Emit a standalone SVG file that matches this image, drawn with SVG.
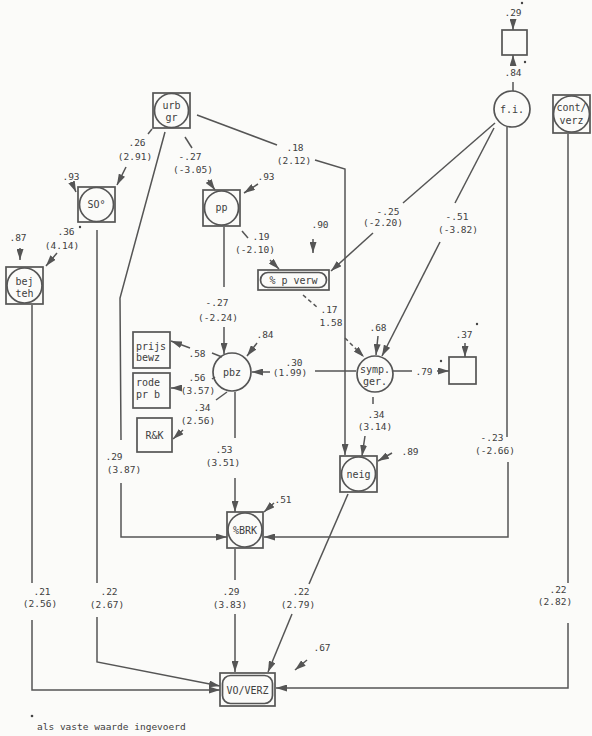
<svg xmlns="http://www.w3.org/2000/svg" width="592" height="736" viewBox="0 0 592 736">
<style>
.bg{fill:#fbfbf9}
.n{fill:none;stroke:#555;stroke-width:1.7}
.c{fill:none;stroke:#555;stroke-width:1.5}
.a{marker-end:url(#ah)}
.d{stroke-dasharray:4,3}
.t{font-family:"DejaVu Sans Mono","Liberation Mono",monospace;font-size:10px;fill:#404040;text-anchor:middle}
.l{font-family:"DejaVu Sans Mono","Liberation Mono",monospace;font-size:9.5px;fill:#404040;text-anchor:middle}
.st{text-anchor:start}
.s{fill:#444}
</style>
<defs>
<marker id="ah" markerWidth="11" markerHeight="7" refX="11" refY="3.5" orient="auto" markerUnits="userSpaceOnUse"><path d="M0,0 L11,3.5 L0,7 z" fill="#555"/></marker>
</defs>
<rect class="bg" x="0" y="0" width="592" height="736"/>

<g id="connectors">
<!-- urb gr -> SO -->
<line class="c" x1="152" y1="129" x2="148" y2="134"/>
<line class="c a" x1="126" y1="167" x2="117" y2="185"/>
<text class="l" x="137" y="146">.26</text><text class="l" x="135" y="160">(2.91)</text>
<!-- urb gr -> pp -->
<line class="c" x1="185" y1="137" x2="192" y2="148"/>
<line class="c a" x1="208" y1="180" x2="215" y2="190"/>
<text class="l" x="190" y="160">-.27</text><text class="l" x="193" y="173">(-3.05)</text>
<!-- urb gr -> neig -->
<line class="c" x1="197" y1="115" x2="277" y2="145"/>
<polyline class="c a" points="315,160 345,169 345,455"/>
<text class="l" x="295" y="151">.18</text><text class="l" x="294" y="164">(2.12)</text>
<!-- .93 -> pp -->
<line class="c a" x1="258" y1="184" x2="244" y2="193"/>
<text class="l" x="266" y="180">.93</text>
<!-- .93 -> SO -->
<line class="c a" x1="72" y1="183" x2="76" y2="192"/>
<text class="l" x="71" y="180">.93</text>
<!-- SO -> bej teh -->
<line class="c a" x1="57" y1="253" x2="46" y2="266"/>
<text class="l" x="66" y="235">.36</text><circle class="s" cx="80" cy="227" r="1.2"/>
<text class="l" x="62" y="249">(4.14)</text>
<!-- .87 -> bej teh -->
<line class="c a" x1="20" y1="248" x2="20" y2="260"/>
<text class="l" x="18" y="241">.87</text>
<!-- bej teh -> VO/VERZ -->
<line class="c" x1="32" y1="305" x2="32" y2="583"/>
<polyline class="c a" points="32,620 32,690 220,690"/>
<text class="l" x="42" y="595">.21</text><text class="l" x="40" y="607">(2.56)</text>
<!-- SO -> VO/VERZ -->
<line class="c" x1="97" y1="230" x2="97" y2="583"/>
<polyline class="c a" points="97,617 97,662 220,686"/>
<text class="l" x="109" y="595">.22</text><text class="l" x="107" y="608">(2.67)</text>
<!-- urb gr -> %BRK -->
<polyline class="c" points="165,132 120,298 121,440"/>
<polyline class="c a" points="121,483 121,537 227,537"/>
<text class="l" x="114" y="460">.29</text><text class="l" x="124" y="473">(3.87)</text>
<!-- pp -> % p verw -->
<line class="c" x1="242" y1="231" x2="248" y2="238"/>
<line class="c a" x1="270" y1="260" x2="279" y2="269"/>
<text class="l" x="261" y="240">.19</text><text class="l" x="255" y="253">(-2.10)</text>
<!-- .90 -> % p verw -->
<line class="c a" x1="313" y1="239" x2="313" y2="253"/>
<text class="l" x="320" y="228">.90</text>
<!-- pp -> pbz -->
<line class="c" x1="224" y1="227" x2="224" y2="287"/>
<line class="c a" x1="224" y1="327" x2="224" y2="354"/>
<text class="l" x="217" y="306">-.27</text><text class="l" x="218" y="321">(-2.24)</text>
<!-- .84 -> pbz -->
<line class="c a" x1="257" y1="343" x2="247" y2="356"/>
<text class="l" x="265" y="338">.84</text>
<!-- pbz -> prijs bewz -->
<line class="c" x1="222" y1="357" x2="212" y2="353"/>
<line class="c a" x1="190" y1="348" x2="171" y2="341"/>
<text class="l" x="197" y="357">.58</text>
<!-- pbz -> rode pr b -->
<line class="c" x1="215" y1="377" x2="212" y2="379"/>
<line class="c a" x1="182" y1="388" x2="171" y2="388"/>
<text class="l" x="197" y="381">.56</text><text class="l" x="198" y="394">(3.57)</text>
<!-- pbz -> R&K -->
<line class="c" x1="227" y1="392" x2="216" y2="400"/>
<line class="c a" x1="183" y1="430" x2="173" y2="439"/>
<text class="l" x="202" y="411">.34</text><text class="l" x="198" y="424">(2.56)</text>
<!-- pbz -> %BRK -->
<line class="c" x1="235" y1="392" x2="235" y2="438"/>
<line class="c a" x1="235" y1="478" x2="235" y2="512"/>
<text class="l" x="224" y="453">.53</text><text class="l" x="223" y="466">(3.51)</text>
<!-- .51 -> %BRK -->
<line class="c a" x1="274" y1="503" x2="264" y2="512"/>
<text class="l" x="283" y="503">.51</text>
<!-- symp -> pbz -->
<line class="c" x1="356" y1="371" x2="315" y2="371"/>
<line class="c a" x1="270" y1="372" x2="252" y2="372"/>
<text class="l" x="294" y="366">.30</text><text class="l" x="290" y="376">(1.99)</text>
<!-- % p verw -> symp (dashed) -->
<line class="c d" x1="303" y1="295" x2="318" y2="308"/>
<line class="c d a" x1="345" y1="338" x2="364" y2="357"/>
<text class="l" x="329" y="313">.17</text><text class="l" x="331" y="326">1.58</text>
<!-- .68 -> symp -->
<line class="c a" x1="378" y1="336" x2="376" y2="355"/>
<text class="l" x="378" y="331">.68</text>
<!-- f.i. -> symp -->
<line class="c" x1="494" y1="128" x2="455" y2="203"/>
<line class="c a" x1="440" y1="242" x2="382" y2="356"/>
<text class="l" x="457" y="220">-.51</text><text class="l" x="458" y="233">(-3.82)</text>
<!-- f.i. -> % p verw -->
<line class="c" x1="495" y1="123" x2="403" y2="203"/>
<line class="c a" x1="373" y1="233" x2="331" y2="271"/>
<text class="l" x="388" y="215">-.25</text><text class="l" x="383" y="226">(-2.20)</text>
<!-- f.i. -> %BRK -->
<line class="c" x1="507" y1="127" x2="507" y2="437"/>
<polyline class="c a" points="508,462 508,537 264,537"/>
<text class="l" x="492" y="441">-.23</text><text class="l" x="495" y="454">(-2.66)</text>
<!-- symp -> indicator -->
<line class="c" x1="393" y1="371" x2="412" y2="371"/>
<line class="c a" x1="437" y1="371" x2="449" y2="371"/>
<text class="l" x="424" y="375">.79</text><circle class="s" cx="441" cy="361" r="1.2"/>
<!-- .37 -> indicator -->
<line class="c a" x1="465" y1="343" x2="465" y2="357"/>
<text class="l" x="464" y="338">.37</text><circle class="s" cx="477" cy="324" r="1.2"/>
<!-- symp -> neig -->
<line class="c" x1="373" y1="397" x2="373" y2="404"/>
<line class="c a" x1="365" y1="436" x2="362" y2="456"/>
<text class="l" x="376" y="418">.34</text><text class="l" x="375" y="430">(3.14)</text>
<!-- .89 -> neig -->
<line class="c a" x1="392" y1="453" x2="378" y2="461"/>
<text class="l" x="410" y="455">.89</text>
<!-- neig -> VO/VERZ -->
<line class="c" x1="348" y1="494" x2="309" y2="584"/>
<line class="c a" x1="292" y1="614" x2="268" y2="672"/>
<text class="l" x="301" y="595">.22</text><text class="l" x="298" y="608">(2.79)</text>
<!-- %BRK -> VO/VERZ -->
<line class="c" x1="235" y1="549" x2="235" y2="580"/>
<line class="c a" x1="235" y1="614" x2="235" y2="672"/>
<text class="l" x="231" y="595">.29</text><text class="l" x="230" y="608">(3.83)</text>
<!-- .67 -> VO/VERZ -->
<line class="c a" x1="307" y1="660" x2="295" y2="670"/>
<text class="l" x="322" y="651">.67</text>
<!-- cont/verz -> VO/VERZ -->
<line class="c" x1="568" y1="134" x2="568" y2="583"/>
<polyline class="c a" points="568,623 568,688 276,688"/>
<text class="l" x="558" y="593">.22</text><text class="l" x="555" y="605">(2.82)</text>
<!-- top indicator of f.i. -->
<line class="c a" x1="513" y1="19" x2="513" y2="30"/>
<text class="l" x="513" y="16">.29</text><circle class="s" cx="522" cy="3" r="1.2"/>
<line class="c" x1="513" y1="91" x2="513" y2="82"/>
<line class="c a" x1="513" y1="66" x2="513" y2="55"/>
<text class="l" x="513" y="76">.84</text><circle class="s" cx="525" cy="62" r="1.2"/>
</g>

<g id="urb_gr"><rect class="n" x="153" y="93" width="37" height="35"/><circle class="n" cx="171.5" cy="110.5" r="17"/><text class="t" x="171.5" y="108.5">urb</text><text class="t" x="171.5" y="121">gr</text></g>
<g id="SO"><rect class="n" x="78" y="187" width="37" height="35"/><circle class="n" cx="96.5" cy="204.5" r="17"/><text class="t" x="96.5" y="208">SO°</text></g>
<g id="bej_teh"><rect class="n" x="6" y="267" width="37" height="37"/><circle class="n" cx="24.5" cy="285.5" r="17.5"/><text class="t" x="24.5" y="284.5">bej</text><text class="t" x="24.5" y="296.5">teh</text></g>
<g id="pp"><rect class="n" x="203" y="190" width="37" height="36"/><circle class="n" cx="221.5" cy="208" r="17"/><text class="t" x="221.5" y="211">pp</text></g>
<g id="p_verw"><rect class="n" x="258" y="270" width="71" height="20"/><rect class="n" x="260.5" y="272.5" width="66" height="15" rx="7.5"/><text class="t" x="293.5" y="283.5">% p verw</text></g>
<g id="fi"><circle class="n" cx="512" cy="109" r="18"/><text class="t" x="512" y="112.5">f.i.</text></g>
<g id="fi_ind"><rect class="n" x="502" y="30" width="25" height="25"/></g>
<g id="cont_verz"><rect class="n" x="553" y="95" width="37" height="38"/><circle class="n" cx="571.5" cy="114" r="18"/><text class="t" x="571.5" y="111">cont/</text><text class="t" x="571.5" y="124">verz</text></g>
<g id="pbz"><circle class="n" cx="232" cy="372" r="19"/><text class="t" x="232" y="375.5">pbz</text></g>
<g id="prijs_bewz"><rect class="n" x="133" y="332" width="37" height="36"/><text class="t st" x="136" y="350">prijs</text><text class="t st" x="136" y="361">bewz</text></g>
<g id="rode_pr_b"><rect class="n" x="133" y="373" width="37" height="35"/><text class="t st" x="136" y="386">rode</text><text class="t st" x="136" y="398">pr b</text></g>
<g id="RK"><rect class="n" x="137" y="418" width="35" height="34"/><text class="t" x="154.5" y="438.5">R&amp;K</text></g>
<g id="symp_ger"><circle class="n" cx="375" cy="374" r="18"/><text class="t" x="375" y="373">symp.</text><text class="t" x="375" y="384.5">ger.</text></g>
<g id="symp_ind"><rect class="n" x="449" y="357" width="27" height="27"/></g>
<g id="neig"><rect class="n" x="340" y="456" width="37" height="36"/><circle class="n" cx="358.5" cy="474" r="17"/><text class="t" x="358.5" y="477.5">neig</text></g>
<g id="BRK"><rect class="n" x="227" y="512" width="36" height="36"/><circle class="n" cx="245" cy="530" r="17"/><text class="t" x="245" y="533.5">%BRK</text></g>
<g id="VO_VERZ"><rect class="n" x="220" y="673" width="55" height="33"/><rect class="n" x="222.5" y="675.5" width="50" height="28" rx="8"/><text class="t" x="247.5" y="693.5">VO/VERZ</text></g>

<g id="footnote"><circle class="s" cx="32" cy="716" r="1.3"/><text class="l st" x="37" y="730">als vaste waarde ingevoerd</text></g>
</svg>
